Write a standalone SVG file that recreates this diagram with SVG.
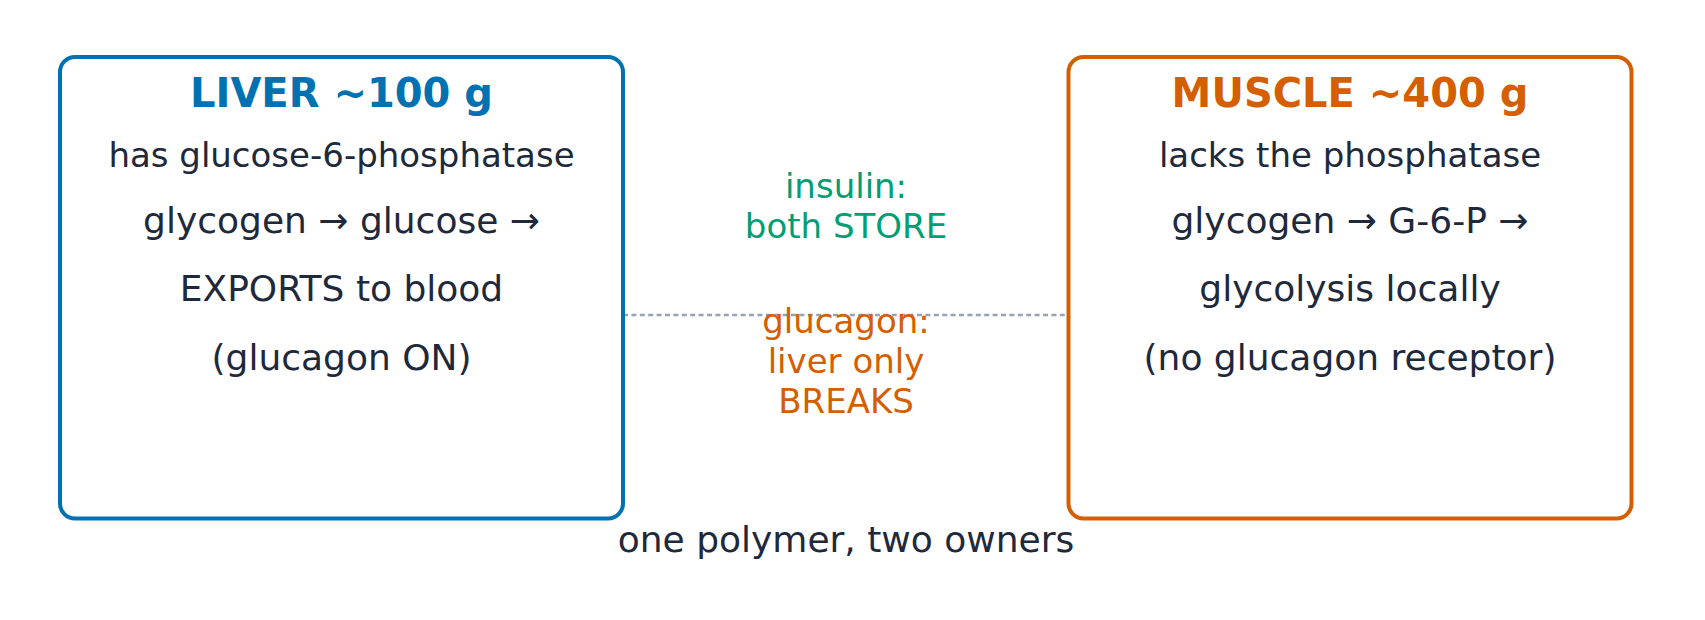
<svg xmlns="http://www.w3.org/2000/svg" width="1705" height="620" viewBox="0 0 1705 620">
<style>
text{font-family:"DejaVu Sans",Verdana,sans-serif;text-anchor:middle}
.box{fill:#ffffff;stroke-width:4}
.title{font-weight:bold;font-size:40px}
.l1{font-size:34px;fill:#1e293b}
.body{font-size:36px;fill:#1e293b}
.mid{font-size:34px}
.foot{font-size:36px;fill:#1e293b}
.conn{stroke:#94a3b8;stroke-width:2.5;stroke-dasharray:5 3.4;fill:none}
</style>
<rect width="1705" height="620" fill="#ffffff"/>
<g id="connectors">
<line class="conn" x1="623" y1="315" x2="1068" y2="315"/>
</g>
<g id="liver">
<rect class="box" x="60" y="57" width="563" height="461.5" rx="15" ry="15" stroke="#0072b2"/>
<text class="title" x="341.5" y="107" fill="#0072b2">LIVER ~100 g</text>
<text class="l1" x="341.5" y="167">has glucose-6-phosphatase</text>
<text class="body" x="341.5" y="233">glycogen → glucose →</text>
<text class="body" x="341.5" y="301">EXPORTS to blood</text>
<text class="body" x="341.5" y="370">(glucagon ON)</text>
</g>
<g id="muscle">
<rect class="box" x="1068.5" y="57" width="563" height="461.5" rx="15" ry="15" stroke="#d55e00"/>
<text class="title" x="1350" y="107" fill="#d55e00">MUSCLE ~400 g</text>
<text class="l1" x="1350" y="167">lacks the phosphatase</text>
<text class="body" x="1350" y="233">glycogen → G-6-P →</text>
<text class="body" x="1350" y="301">glycolysis locally</text>
<text class="body" x="1350" y="370">(no glucagon receptor)</text>
</g>
<g id="insulin-label">
<text class="mid" x="846" y="198" fill="#009e73">insulin:</text>
<text class="mid" x="846" y="238" fill="#009e73">both STORE</text>
</g>
<g id="glucagon-label">
<text class="mid" x="846" y="332.5" fill="#d55e00">glucagon:</text>
<text class="mid" x="846" y="372.5" fill="#d55e00">liver only</text>
<text class="mid" x="846" y="413" fill="#d55e00">BREAKS</text>
</g>
<g id="footer">
<text class="foot" x="846" y="551.5">one polymer, two owners</text>
</g>
</svg>
